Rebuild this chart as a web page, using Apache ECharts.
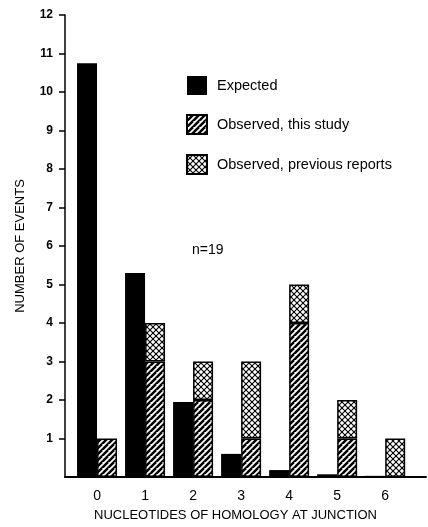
<!DOCTYPE html>
<html>
<head>
<meta charset="utf-8">
<script src="https://cdn.jsdelivr.net/npm/echarts@6/dist/echarts.min.js"></script>
<style>
html,body{margin:0;padding:0;background:#fff;}
#chart{width:428px;height:527px;}
</style>
</head>
<body>
<div id="chart"></div>
<script>
// ---- data ----
var categories = [0, 1, 2, 3, 4, 5, 6];
var expected = [10.75, 5.3, 1.95, 0.6, 0.18, 0.07, 0.03];
var observedThisStudy = [1, 3, 2, 1, 4, 1, null];
var observedPrevious = [null, 1, 1, 2, 1, 1, 1];
var yTicks = [1, 2, 3, 4, 5, 6, 7, 8, 9, 10, 11, 12];
var seriesNames = ['Expected', 'Observed, this study', 'Observed, previous reports'];

// value first so that the stacked dimension is the value (y) dimension
function pair(vals) {
  return categories.map(function (c, i) { return [vals[i] == null ? '-' : vals[i], c]; });
}

function makeHatch() {
  var c = document.createElement('canvas');
  c.width = 6; c.height = 6;
  var g = c.getContext('2d');
  g.fillStyle = '#fff'; g.fillRect(0, 0, 6, 6);
  g.strokeStyle = '#000'; g.lineWidth = 2.5;
  for (var k = -6; k <= 12; k += 6) {
    g.beginPath(); g.moveTo(k - 6, 12); g.lineTo(k + 6, 0); g.stroke();
  }
  return c;
}
function makeCross() {
  var c = document.createElement('canvas');
  c.width = 6; c.height = 6;
  var g = c.getContext('2d');
  g.fillStyle = '#fff'; g.fillRect(0, 0, 6, 6);
  g.strokeStyle = '#000'; g.lineWidth = 1.1;
  for (var k = -6; k <= 12; k += 6) {
    g.beginPath(); g.moveTo(k - 6, 12); g.lineTo(k + 6, 0); g.stroke();
    g.beginPath(); g.moveTo(k - 6, -6); g.lineTo(k + 12, 12); g.stroke();
  }
  return c;
}

var chart = echarts.init(document.getElementById('chart'), null, {renderer: 'canvas'});
var font = 'Liberation Sans, Arial, Helvetica, sans-serif';
var dims = ['value', 'pos'];
var enc = {x: 'pos', y: 'value'};

chart.setOption({
  animation: false,
  backgroundColor: '#fff',
  grid: {left: 65, right: 2, top: 15, bottom: 47},
  legend: {
    orient: 'vertical',
    left: 186, top: 76,
    icon: 'rect',
    itemWidth: 20, itemHeight: 19, itemGap: 19,
    padding: 0,
    data: seriesNames,
    textStyle: {fontFamily: font, fontSize: 14.5, color: '#000', padding: [0, 0, 0, 5]}
  },
  xAxis: {
    type: 'value',
    min: -0.667, max: 6.85,
    splitLine: {show: false},
    axisLine: {show: true, onZero: false, lineStyle: {color: '#000', width: 2}},
    axisTick: {show: false},
    axisLabel: {
      customValues: categories,
      color: '#000', fontFamily: font, fontSize: 14, margin: 12
    },
    name: 'NUCLEOTIDES OF HOMOLOGY AT JUNCTION',
    nameLocation: 'middle',
    nameGap: 32,
    nameTextStyle: {fontFamily: font, fontSize: 13, color: '#000', padding: [0, 20, 0, 0]}
  },
  yAxis: {
    type: 'value',
    min: 0, max: 12, interval: 1,
    splitLine: {show: false},
    axisLine: {show: true, onZero: false, lineStyle: {color: '#000', width: 1.5}},
    axisTick: {show: true, length: 6, customValues: yTicks, lineStyle: {color: '#000', width: 1.5}},
    axisLabel: {
      customValues: yTicks,
      color: '#000', fontFamily: font, fontSize: 12, fontWeight: 'bold', margin: 12
    },
    name: 'NUMBER OF EVENTS',
    nameLocation: 'middle',
    nameGap: 38,
    nameTextStyle: {fontFamily: font, fontSize: 13, color: '#000'}
  },
  series: [
    {
      name: seriesNames[0], type: 'bar',
      barWidth: 20, barGap: '0%',
      dimensions: dims, encode: enc,
      itemStyle: {color: '#000'},
      data: pair(expected)
    },
    {
      name: seriesNames[1], type: 'bar', stack: 'obs',
      barWidth: 20,
      dimensions: dims, encode: enc,
      itemStyle: {color: {image: makeHatch(), repeat: 'repeat'}, borderColor: '#000', borderWidth: 1.5},
      data: pair(observedThisStudy)
    },
    {
      name: seriesNames[2], type: 'bar', stack: 'obs',
      barWidth: 20,
      dimensions: dims, encode: enc,
      itemStyle: {color: {image: makeCross(), repeat: 'repeat'}, borderColor: '#000', borderWidth: 1.5},
      data: pair(observedPrevious)
    }
  ],
  graphic: [{
    type: 'text', left: 192, top: 243,
    style: {text: 'n=19', font: '14px ' + font, fill: '#000'}
  }]
});
</script>
</body>
</html>
